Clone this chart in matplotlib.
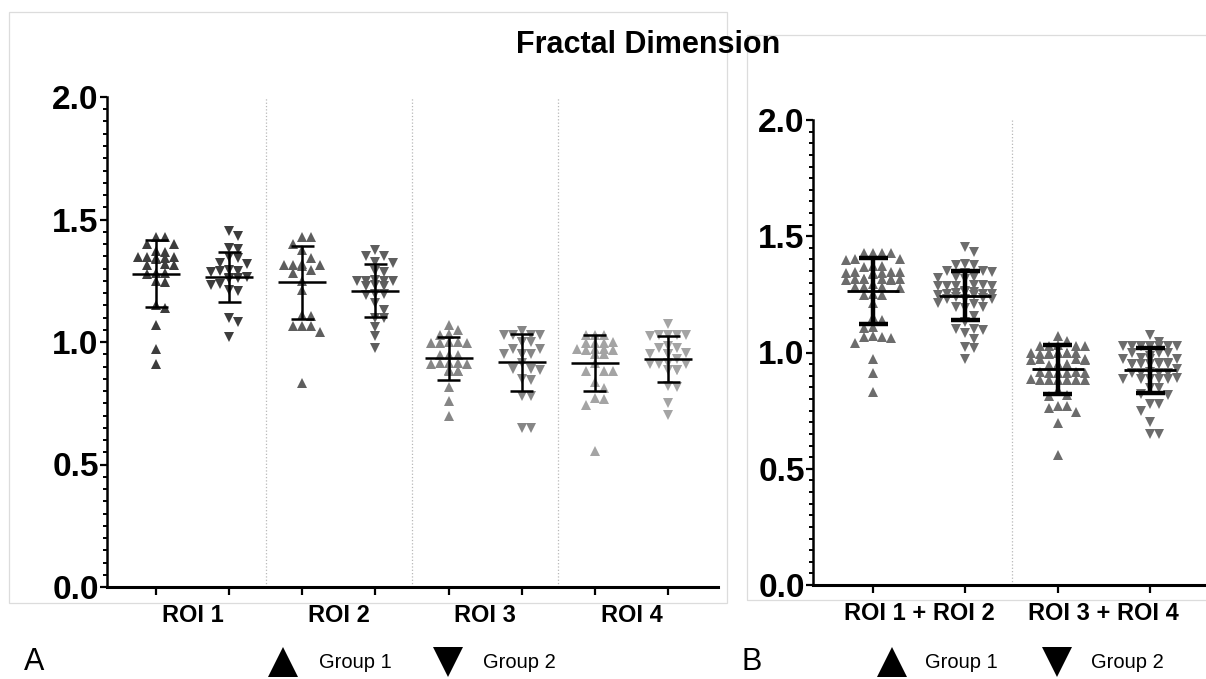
import numpy as np
import matplotlib
matplotlib.use("Agg")
import matplotlib.pyplot as plt
from matplotlib.lines import Line2D
from matplotlib.patches import Rectangle
from matplotlib.ticker import MultipleLocator

plt.rcParams["font.family"] = ["Liberation Sans", "DejaVu Sans"]

# ---------------- data ----------------
roi_labels = ["ROI 1", "ROI 2", "ROI 3", "ROI 4"]
pooled_labels = ["ROI 1 + ROI 2", "ROI 3 + ROI 4"]
group_labels = ["Group 1", "Group 2"]

roi1_g1 = [1.430, 1.428, 1.402, 1.398, 1.372, 1.366, 1.348, 1.345, 1.343, 1.341,
           1.346, 1.339, 1.318, 1.315, 1.313, 1.283, 1.280, 1.279, 1.250, 1.246,
           1.153, 1.138, 1.070, 0.970, 0.910]
roi1_g2 = [1.452, 1.432, 1.382, 1.378, 1.348, 1.344, 1.322, 1.318, 1.292, 1.290,
           1.288, 1.286, 1.264, 1.262, 1.260, 1.258, 1.238, 1.234, 1.214, 1.210,
           1.100, 1.082, 1.019]
roi2_g1 = [1.430, 1.428, 1.402, 1.374, 1.343, 1.318, 1.316, 1.315, 1.314, 1.312,
           1.295, 1.281, 1.247, 1.213, 1.110, 1.107, 1.067, 1.066, 1.064, 1.042,
           0.832]
roi2_g2 = [1.377, 1.352, 1.350, 1.326, 1.324, 1.288, 1.286, 1.252, 1.250, 1.249,
           1.248, 1.251, 1.230, 1.228, 1.232, 1.194, 1.192, 1.196, 1.159, 1.131,
           1.100, 1.098, 1.060, 1.025, 0.974]
roi3_g1 = [1.070, 1.050, 1.032, 1.028, 0.998, 0.997, 0.996, 0.999, 0.995, 0.948,
           0.947, 0.946, 0.914, 0.913, 0.912, 0.915, 0.911, 0.884, 0.882, 0.883,
           0.881, 0.817, 0.760, 0.697]
roi3_g2 = [1.046, 1.030, 1.029, 1.028, 1.027, 1.000, 0.999, 0.998, 0.972, 0.970,
           0.952, 0.951, 0.950, 0.949, 0.914, 0.890, 0.888, 0.887, 0.848, 0.846,
           0.780, 0.778, 0.650, 0.648]
roi4_g1 = [1.030, 1.029, 1.028, 0.998, 0.997, 0.996, 0.995, 0.971, 0.970, 0.969,
           0.968, 0.972, 0.952, 0.950, 0.913, 0.883, 0.882, 0.881, 0.837, 0.814,
           0.772, 0.768, 0.742, 0.557]
roi4_g2 = [1.074, 1.030, 1.029, 1.028, 1.027, 1.026, 0.985, 0.975, 0.974, 0.954,
           0.953, 0.952, 0.951, 0.929, 0.913, 0.912, 0.911, 0.910, 0.886, 0.885,
           0.884, 0.822, 0.818, 0.749, 0.701]

# mean and SD per ROI (panel A)
mean_g1 = [1.279, 1.243, 0.933, 0.913]
sd_g1 = [0.137, 0.148, 0.089, 0.115]
mean_g2 = [1.265, 1.210, 0.917, 0.929]
sd_g2 = [0.103, 0.107, 0.115, 0.094]

# mean and SD of pooled regions (panel B)
pooled_mean_g1 = [1.266, 0.928]
pooled_sd_g1 = [0.142, 0.105]
pooled_mean_g2 = [1.245, 0.923]
pooled_sd_g2 = [0.106, 0.097]

roi_colors = ["#3d3d3d", "#5e5e5e", "#868686", "#a4a4a4"]
pooled_color = "#6c6c6c"

# ---------------- figure ----------------
W, H = 1206, 679
fig = plt.figure(figsize=(W / 100, H / 100), dpi=100)


def fx(px):
    return px / W


def fy(py):
    return 1 - py / H


def swarm(vals, px_per_val, w=9.0, h=8.0, max_half=24.0):
    """Greedy beeswarm offsets in pixels."""
    vals = np.asarray(vals, float)
    ys = vals * px_per_val
    order = np.argsort(-vals)
    px, py = [], []
    offs = np.zeros(len(vals))
    step = w / 2
    kmax = int(max_half // step)
    cands = [0.0]
    for k in range(1, kmax + 1):
        cands += [k * step, -k * step]
    for i in order:
        y = ys[i]
        best, best_c = None, None
        for c in cands:
            conf = sum(1 for a, b in zip(px, py)
                       if abs(a - c) < w * 0.95 and abs(b - y) < h)
            if conf == 0:
                best = c
                break
            if best_c is None or conf < best_c:
                best_c, best_alt = conf, c
        if best is None:
            best = best_alt
        offs[i] = best
        px.append(best)
        py.append(y)
    return offs


def style_axes(ax):
    for s in ["top", "right"]:
        ax.spines[s].set_visible(False)
    ax.spines["left"].set_linewidth(1.8)
    ax.spines["bottom"].set_linewidth(2.2)
    ax.set_ylim(0, 2.0)
    ax.yaxis.set_major_locator(MultipleLocator(0.5))
    ax.yaxis.set_minor_locator(MultipleLocator(0.05))
    ax.set_yticks([0, 0.5, 1.0, 1.5, 2.0])
    ax.set_yticklabels(["0.0", "0.5", "1.0", "1.5", "2.0"],
                       fontsize=24, fontweight="bold")
    ax.tick_params(axis="y", which="major", length=5, width=1.6, pad=1)
    ax.tick_params(axis="y", which="minor", length=3, width=1.4)
    ax.tick_params(axis="x", which="major", length=6, width=1.6,
                   labelbottom=False)
    ax.patch.set_alpha(0)


def draw_group(ax, xpos, vals, color, marker, mean, sd, unit_px, ypx,
               max_half, cap_px, mean_px, lw_bar, lw_mean, ms=7.3):
    offs = swarm(vals, ypx, max_half=max_half) / unit_px
    ax.plot(xpos + offs, vals, linestyle="none", marker=marker, ms=ms,
            color=color, markeredgewidth=0, zorder=3)
    ax.plot([xpos, xpos], [mean - sd, mean + sd], color="black",
            lw=lw_bar, zorder=4, solid_capstyle="butt")
    for v in (mean - sd, mean + sd):
        ax.plot([xpos - cap_px / unit_px, xpos + cap_px / unit_px], [v, v],
                color="black", lw=lw_bar, zorder=4, solid_capstyle="butt")
    ax.plot([xpos - mean_px / unit_px, xpos + mean_px / unit_px], [mean, mean],
            color="black", lw=lw_mean, zorder=4, solid_capstyle="butt")


# light frames around the two panels (drawn beneath everything else)
fig.add_artist(Rectangle((fx(9), fy(603)), fx(727) - fx(9), fy(12) - fy(603),
                         transform=fig.transFigure, fill=False,
                         edgecolor="#dcdcdc", lw=0.9, zorder=0))
fig.add_artist(Rectangle((fx(747), fy(600)), fx(1210) - fx(747), fy(35) - fy(600),
                         transform=fig.transFigure, fill=False,
                         edgecolor="#dcdcdc", lw=0.9, zorder=0))

# ---------------- panel A ----------------
a_left, a_right, a_top, a_bot = 107, 718, 97, 587
axA = fig.add_axes([fx(a_left), fy(a_bot), fx(a_right) - fx(a_left),
                    fy(a_top) - fy(a_bot)])
unitA = (668 - 156) / 7
axA.set_xlim(-(156 - a_left) / unitA, (a_right - 156) / unitA)
style_axes(axA)
ypxA = (a_bot - a_top) / 2.0

roi_data = [(roi1_g1, roi1_g2), (roi2_g1, roi2_g2),
            (roi3_g1, roi3_g2), (roi4_g1, roi4_g2)]
xticksA = []
for i, (g1, g2) in enumerate(roi_data):
    x1, x2 = 2 * i, 2 * i + 1
    xticksA += [x1, x2]
    draw_group(axA, x1, g1, roi_colors[i], "^", mean_g1[i], sd_g1[i],
               unitA, ypxA, 22, 11.5, 24, 1.8, 1.8)
    draw_group(axA, x2, g2, roi_colors[i], "v", mean_g2[i], sd_g2[i],
               unitA, ypxA, 22, 11.5, 24, 1.8, 1.8)
    axA.annotate(roi_labels[i], xy=(2 * i + 0.5, 0),
                 xycoords=("data", "axes fraction"),
                 xytext=(0, -28), textcoords="offset pixels",
                 ha="center", va="center", fontsize=17, fontweight="bold")
    if i > 0:
        axA.axvline(2 * i - 0.5, color="#b8b8b8", lw=0.9, ls=":", zorder=1)
axA.set_xticks(xticksA)

# ---------------- panel B ----------------
b_left, b_right, b_top, b_bot = 813, 1206, 120, 585
axB = fig.add_axes([fx(b_left), fy(b_bot), fx(b_right) - fx(b_left),
                    fy(b_top) - fy(b_bot)])
unitB = (1150 - 873) / 3
axB.set_xlim(-(873 - b_left) / unitB, (b_right - 873) / unitB)
style_axes(axB)
ypxB = (b_bot - b_top) / 2.0

pooled_data = [(roi1_g1 + roi2_g1, roi1_g2 + roi2_g2),
               (roi3_g1 + roi4_g1, roi3_g2 + roi4_g2)]
xticksB = []
for i, (g1, g2) in enumerate(pooled_data):
    x1, x2 = 2 * i, 2 * i + 1
    xticksB += [x1, x2]
    draw_group(axB, x1, g1, pooled_color, "^", pooled_mean_g1[i],
               pooled_sd_g1[i], unitB, ypxB, 34, 14.5, 26, 3.2, 2.0)
    draw_group(axB, x2, g2, pooled_color, "v", pooled_mean_g2[i],
               pooled_sd_g2[i], unitB, ypxB, 34, 14.5, 26, 3.2, 2.0)
    axB.annotate(pooled_labels[i], xy=(2 * i + 0.5, 0),
                 xycoords=("data", "axes fraction"),
                 xytext=(0, -29), textcoords="offset pixels",
                 ha="center", va="center", fontsize=17, fontweight="bold")
axB.axvline(1.5, color="#b8b8b8", lw=0.9, ls=":", zorder=1)
axB.set_xticks(xticksB)

# ---------------- title and legends ----------------
fig.text(fx(648), fy(45), "Fractal Dimension", ha="center", va="center",
         fontsize=22, fontweight="bold")

legend_y = 662
for panel, lx, m1x, t1x, m2x, t2x in [("A", 24, 283, 319, 448, 483),
                                       ("B", 742, 892, 925, 1057, 1091)]:
    fig.text(fx(lx), fy(legend_y), panel, ha="left", va="center", fontsize=22)
    for mx, tx, mk, lab in [(m1x, t1x, "^", group_labels[0]),
                            (m2x, t2x, "v", group_labels[1])]:
        fig.add_artist(Line2D([fx(mx)], [fy(legend_y)], marker=mk, ms=22,
                              color="black", markeredgewidth=0,
                              transform=fig.transFigure))
        fig.text(fx(tx), fy(legend_y), lab, ha="left", va="center",
                 fontsize=14.5)

fig.savefig("out.png", dpi=100)
